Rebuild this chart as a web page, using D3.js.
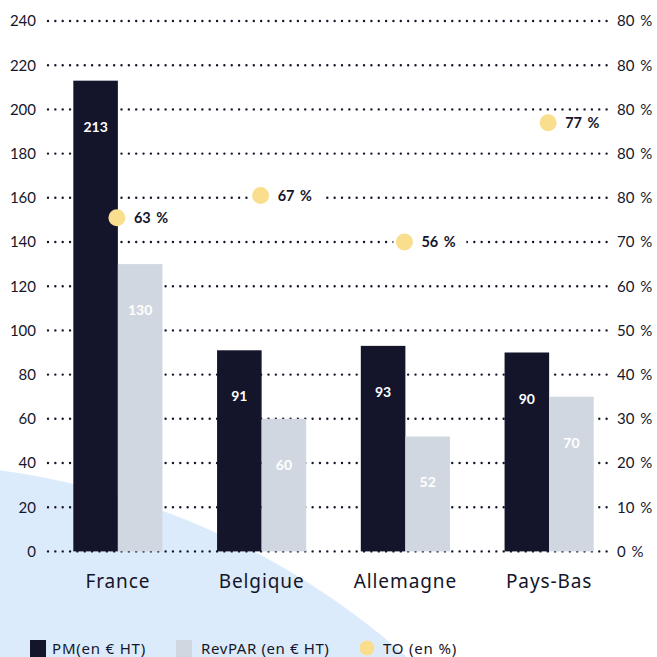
<!DOCTYPE html>
<html>
  <head>
    <meta charset="utf-8">
    <title>PM, RevPAR et TO</title>
    <script src="https://d3js.org/d3.v7.min.js"></script>
    <style>
      body { margin: 0; background: #fff; }
      text { font-family: "Noto Sans", Lato, sans-serif; fill: #15162b; }
    </style>
  </head>
  <body>
    <svg width="657" height="657"></svg>

    <script>
      // data
      const countries = ["France", "Belgique", "Allemagne", "Pays-Bas"];
      const pm = [213, 91, 93, 90];
      const revpar = [130, 60, 52, 70];
      const to = [63, 67, 56, 77];
      // height of the TO markers, measured on the left axis
      const toLevel = [151, 161, 140, 194];
      const leftTicks = [0, 20, 40, 60, 80, 100, 120, 140, 160, 180, 200, 220, 240];
      const rightTicks = ["0 %", "10 %", "20 %", "30 %", "40 %", "50 %", "60 %", "70 %",
                          "80 %", "80 %", "80 %", "80 %", "80 %"];

      const dark = "#14152a", light = "#d1d7e0", gold = "#f8de8d";

      let svg = d3.select("svg");

      // light blue decorative shape in the bottom left
      svg.append("ellipse")
        .attr("cx", -105).attr("cy", 1225)
        .attr("rx", 768).attr("ry", 762)
        .attr("fill", "#dcebfb");

      let x0 = d3.scaleBand()
        .domain(countries)
        .range([46, 621])
        .paddingInner(0.38)
        .paddingOuter(0.19);

      let x1 = d3.scaleBand()
        .domain(["pm", "revpar"])
        .range([0, x0.bandwidth()]);

      let y = d3.scaleLinear()
        .domain([0, 240])
        .range([551.4, 21]);

      // dotted grid lines
      svg.append("g")
        .selectAll("line")
        .data(leftTicks)
        .enter().append("line")
          .attr("x1", 48)
          .attr("x2", 607)
          .attr("y1", d => y(d))
          .attr("y2", d => y(d))
          .attr("stroke", dark)
          .attr("stroke-width", 2.4)
          .attr("stroke-linecap", "round")
          .attr("stroke-dasharray", "0 7.35");

      // left axis
      svg.append("g")
        .attr("transform", "translate(36,0)")
        .call(d3.axisLeft(y).tickValues(leftTicks).tickSize(0).tickPadding(0))
        .call(g => g.select(".domain").remove())
        .call(g => g.selectAll("text")
          .attr("font-size", 15)
          .attr("fill", dark)
          .style("font-family", "Lato, 'Noto Sans', sans-serif"));

      // right axis, its labels as printed on the chart
      svg.append("g")
        .attr("transform", "translate(617,0)")
        .call(d3.axisRight(y).tickValues(leftTicks).tickSize(0).tickPadding(0)
          .tickFormat((d, i) => rightTicks[i]))
        .call(g => g.select(".domain").remove())
        .call(g => g.selectAll("text")
          .attr("font-size", 15)
          .attr("fill", dark)
          .style("word-spacing", "2px")
          .style("font-family", "Lato, 'Noto Sans', sans-serif"));

      // bars
      let groups = svg.append("g")
        .selectAll("g")
        .data(countries)
        .enter().append("g")
          .attr("transform", d => "translate(" + x0(d) + ",0)");

      groups.append("rect")
        .attr("x", x1("pm"))
        .attr("width", x1.bandwidth())
        .attr("y", (d, i) => y(pm[i]))
        .attr("height", (d, i) => y(0) - y(pm[i]))
        .attr("fill", dark);

      groups.append("rect")
        .attr("x", x1("revpar"))
        .attr("width", x1.bandwidth())
        .attr("y", (d, i) => y(revpar[i]))
        .attr("height", (d, i) => y(0) - y(revpar[i]))
        .attr("fill", light);

      // value labels inside the bars
      groups.append("text")
        .attr("x", x1("pm") + x1.bandwidth() / 2)
        .attr("y", (d, i) => y(pm[i]) + 51)
        .attr("text-anchor", "middle")
        .attr("font-size", 14)
        .attr("font-weight", "bold")
        .style("font-family", "Lato, 'Noto Sans', sans-serif")
        .style("fill", "#fff")
        .text((d, i) => pm[i]);

      groups.append("text")
        .attr("x", x1("revpar") + x1.bandwidth() / 2)
        .attr("y", (d, i) => y(revpar[i]) + 51)
        .attr("text-anchor", "middle")
        .attr("font-size", 14)
        .attr("font-weight", "bold")
        .style("font-family", "Lato, 'Noto Sans', sans-serif")
        .style("fill", "#fff")
        .text((d, i) => revpar[i]);

      // category labels
      groups.append("text")
        .attr("x", x0.bandwidth() / 2)
        .attr("y", 588)
        .attr("text-anchor", "middle")
        .attr("font-size", 19)
        .style("letter-spacing", "0.9px")
        .style("fill", dark)
        .text(d => d);

      // TO markers
      let marks = svg.append("g")
        .selectAll("g")
        .data(countries)
        .enter().append("g")
          .attr("transform", (d, i) =>
            "translate(" + (x0(d) + x0.bandwidth() / 2 - 1) + "," + y(toLevel[i]) + ")");

      // white box behind labels that sit on a grid line
      marks.filter((d, i) => Math.abs(toLevel[i] - Math.round(toLevel[i] / 20) * 20) < 3)
        .append("rect")
        .attr("x", -11)
        .attr("y", -9)
        .attr("width", 73)
        .attr("height", 18)
        .attr("fill", "#fff");

      marks.append("circle")
        .attr("r", 8.5)
        .attr("fill", gold);

      marks.append("text")
        .attr("x", 17)
        .attr("y", 5)
        .attr("font-size", 14.5)
        .attr("font-weight", "bold")
        .style("font-family", "Lato, 'Noto Sans', sans-serif")
        .style("word-spacing", "2px")
        .style("fill", dark)
        .text((d, i) => to[i] + " %");

      // legend
      let legend = svg.append("g");
      legend.append("rect")
        .attr("x", 30).attr("y", 640).attr("width", 16).attr("height", 17)
        .attr("fill", dark);
      legend.append("text")
        .attr("x", 52).attr("y", 654)
        .attr("font-size", 15)
        .style("letter-spacing", "0.8px")
        .text("PM(en € HT)");
      legend.append("rect")
        .attr("x", 176).attr("y", 640).attr("width", 16).attr("height", 17)
        .attr("fill", light);
      legend.append("text")
        .attr("x", 201).attr("y", 654)
        .attr("font-size", 15)
        .style("letter-spacing", "0.6px")
        .text("RevPAR (en € HT)");
      legend.append("circle")
        .attr("cx", 367).attr("cy", 648).attr("r", 7.5)
        .attr("fill", gold);
      legend.append("text")
        .attr("x", 383).attr("y", 654)
        .attr("font-size", 15)
        .style("letter-spacing", "0.8px")
        .text("TO (en %)");
    </script>
  </body>
</html>
